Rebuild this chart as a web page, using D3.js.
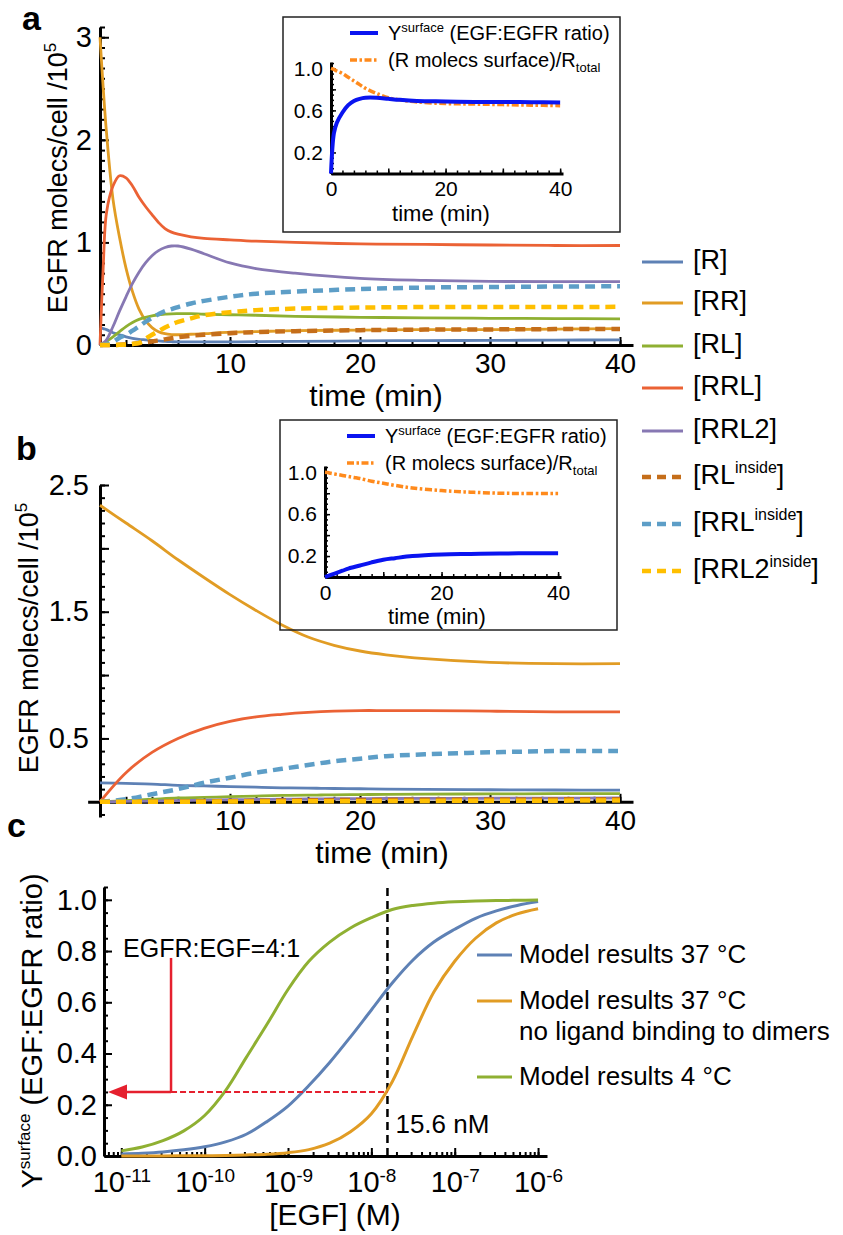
<!DOCTYPE html>
<html lang="en">
<head>
<meta charset="UTF-8">
<title>EGFR model simulations</title>
<script src="https://d3js.org/d3.v7.min.js"></script>
<style>
  body { margin: 0; background: #fff; }
  svg text { font-family: "Liberation Sans", Arial, sans-serif; fill: #000; }
</style>
</head>
<body>
<svg id="fig" width="843" height="1235"></svg>
<script>
// ---------------- data ----------------
// species (legend shared by panels a and b)
const speciesBase = ["[R", "[RR", "[RL", "[RRL", "[RRL2", "[RL", "[RRL", "[RRL2"];
const speciesSup = ["", "", "", "", "", "inside", "inside", "inside"];
const speciesColors = ["#5E81B5", "#E19C24", "#8FB032", "#EB6235", "#8778B3", "#C56E1A", "#5D9EC7", "#FFBF00"];
const speciesDashed = [false, false, false, false, false, true, true, true];

// panel a: EGFR molecs/cell /1e5 vs time (min)
const timeA = [0, 0.25, 0.5, 1, 1.5, 2, 2.5, 3, 3.5, 4, 4.5, 5, 5.5, 6, 7, 8, 10, 12, 15, 20, 25, 30, 35, 40];
const a_R      = [0.17, 0.16, 0.15, 0.12, 0.1, 0.08, 0.065, 0.055, 0.05, 0.045, 0.04, 0.035, 0.032, 0.03, 0.03, 0.03, 0.03, 0.032, 0.035, 0.04, 0.043, 0.045, 0.048, 0.05];
const a_RR     = [3.0, 2.5, 2.07, 1.42, 1.05, 0.75, 0.52, 0.35, 0.24, 0.17, 0.13, 0.11, 0.102, 0.1, 0.105, 0.11, 0.125, 0.13, 0.14, 0.145, 0.15, 0.15, 0.155, 0.16];
const a_RL     = [0, 0.015, 0.035, 0.08, 0.13, 0.18, 0.22, 0.25, 0.27, 0.285, 0.295, 0.3, 0.304, 0.305, 0.305, 0.3, 0.295, 0.29, 0.28, 0.27, 0.265, 0.26, 0.258, 0.255];
const a_RRL    = [0, 0.77, 1.29, 1.55, 1.65, 1.63, 1.55, 1.44, 1.35, 1.27, 1.195, 1.135, 1.1, 1.08, 1.055, 1.04, 1.025, 1.012, 1.0, 0.985, 0.98, 0.975, 0.97, 0.97];
const a_RRL2   = [0, 0.02, 0.05, 0.18, 0.33, 0.47, 0.6, 0.71, 0.8, 0.87, 0.92, 0.95, 0.965, 0.965, 0.935, 0.89, 0.8, 0.745, 0.7, 0.65, 0.63, 0.62, 0.618, 0.617];
const a_RLin   = [0, 0, 0, 0, 0.003, 0.006, 0.01, 0.018, 0.026, 0.035, 0.045, 0.055, 0.065, 0.075, 0.09, 0.1, 0.115, 0.125, 0.135, 0.145, 0.15, 0.152, 0.155, 0.157];
const a_RRLin  = [0, 0.002, 0.008, 0.03, 0.07, 0.1, 0.14, 0.18, 0.225, 0.265, 0.3, 0.33, 0.35, 0.37, 0.405, 0.43, 0.47, 0.5, 0.52, 0.545, 0.56, 0.565, 0.57, 0.572];
const a_RRL2in = [0, 0, 0, 0, 0.002, 0.005, 0.01, 0.02, 0.06, 0.1, 0.135, 0.17, 0.2, 0.225, 0.26, 0.29, 0.32, 0.34, 0.355, 0.365, 0.37, 0.37, 0.37, 0.372];

// panel b
const timeB = [0, 2, 4, 6, 8, 10, 12, 14, 16, 18, 20, 22, 25, 30, 35, 40];
const b_R      = [0.15, 0.145, 0.14, 0.13, 0.125, 0.12, 0.115, 0.11, 0.108, 0.105, 0.103, 0.1, 0.098, 0.095, 0.093, 0.092];
const b_RR     = [2.34, 2.2, 2.06, 1.91, 1.77, 1.635, 1.51, 1.395, 1.3, 1.235, 1.19, 1.16, 1.13, 1.1, 1.09, 1.09];
const b_RL     = [0, 0.01, 0.02, 0.03, 0.035, 0.04, 0.045, 0.05, 0.052, 0.055, 0.057, 0.058, 0.06, 0.062, 0.064, 0.065];
const b_RRL    = [0, 0.23, 0.39, 0.5, 0.58, 0.635, 0.67, 0.69, 0.705, 0.715, 0.72, 0.72, 0.72, 0.715, 0.71, 0.71];
const b_RRL2   = [0, 0.003, 0.006, 0.01, 0.013, 0.016, 0.018, 0.02, 0.022, 0.024, 0.025, 0.026, 0.027, 0.028, 0.029, 0.03];
const b_RLin   = [0, 0, 0.001, 0.002, 0.004, 0.006, 0.008, 0.01, 0.012, 0.013, 0.014, 0.015, 0.016, 0.018, 0.019, 0.02];
const b_RRLin  = [0, 0.02, 0.06, 0.1, 0.15, 0.19, 0.23, 0.26, 0.29, 0.32, 0.34, 0.36, 0.375, 0.39, 0.4, 0.4];
const b_RRL2in = [0, 0, 0, 0.001, 0.001, 0.002, 0.002, 0.003, 0.004, 0.004, 0.005, 0.006, 0.007, 0.008, 0.009, 0.01];

// insets: Y surface and R surface / R total
const timeInset = [0, 0.5, 1, 2, 3, 4, 5, 6, 8, 10, 12, 15, 20, 25, 30, 35, 40];
const insA_Y    = [0, 0.38, 0.48, 0.58, 0.65, 0.69, 0.71, 0.72, 0.72, 0.71, 0.7, 0.69, 0.685, 0.68, 0.68, 0.678, 0.675];
const insA_Rs   = [1.0, 0.99, 0.975, 0.95, 0.915, 0.88, 0.845, 0.81, 0.76, 0.72, 0.7, 0.68, 0.665, 0.66, 0.655, 0.65, 0.645];
const insB_Y    = [0, 0.01, 0.02, 0.04, 0.06, 0.08, 0.095, 0.11, 0.14, 0.165, 0.18, 0.2, 0.215, 0.22, 0.225, 0.226, 0.226];
const insB_Rs   = [1.0, 0.997, 0.99, 0.98, 0.97, 0.96, 0.95, 0.94, 0.915, 0.895, 0.875, 0.85, 0.825, 0.81, 0.8, 0.798, 0.797];

// panel c: Y surface vs [EGF] (M), quarter-decade steps 1e-11 .. 1e-6
const egfConc  = [1e-11, 1.78e-11, 3.16e-11, 5.62e-11, 1e-10, 1.78e-10, 3.16e-10, 5.62e-10, 1e-9, 1.78e-9, 3.16e-9,
                  5.62e-9, 1e-8, 1.78e-8, 3.16e-8, 5.62e-8, 1e-7, 1.78e-7, 3.16e-7, 5.62e-7, 1e-6];
const c_37     = [0.008, 0.011, 0.016, 0.024, 0.036, 0.055, 0.085, 0.135, 0.195, 0.275, 0.365, 0.465, 0.57, 0.675, 0.765, 0.835, 0.885, 0.928, 0.957, 0.978, 0.993];
const c_37noDim= [0, 0, 0, 0.001, 0.001, 0.002, 0.004, 0.007, 0.013, 0.025, 0.05, 0.095, 0.165, 0.29, 0.47, 0.64, 0.76, 0.85, 0.91, 0.945, 0.965];
const c_4      = [0.02, 0.035, 0.06, 0.098, 0.158, 0.255, 0.385, 0.515, 0.65, 0.76, 0.835, 0.89, 0.93, 0.962, 0.978, 0.987, 0.992, 0.995, 0.997, 0.998, 0.999];
const cLabels  = ["Model results 37 \u00B0C", "Model results 37 \u00B0C", "Model results 4 \u00B0C"];
const cColors  = ["#5E81B5", "#E19C24", "#8FB032"];
const egfMark = 15.6e-9;     // dashed line
const ratioMark = 0.25;      // EGFR:EGF = 4:1
const arrowStemConc = 3.95e-11;
const arrowStemTop = 0.773;

// ---------------- drawing ----------------
const svg = d3.select("#fig");
const FONT = "'Liberation Sans', Arial, sans-serif";
const smooth = d3.curveCatmullRom.alpha(0.5);

function styleAxis(g, lineW, tickW, font) {
  g.select(".domain").attr("stroke-width", lineW).attr("stroke", "#000");
  g.selectAll(".tick line").attr("stroke-width", tickW).attr("stroke", "#000");
  g.selectAll("text").style("font-size", font + "px").style("font-family", FONT);
}

// bottom axis: minor ticks + line, then major ticks with labels (ticks point inward)
function xAxis(scale, yPos, majors, minors, o) {
  const gm = svg.append("g").attr("transform", `translate(0,${yPos})`)
    .call(d3.axisBottom(scale).tickValues(minors).tickSize(-o.minorLen).tickSizeOuter(0).tickFormat(""));
  styleAxis(gm, o.lineW, o.tickW, o.font);
  const gM = svg.append("g").attr("transform", `translate(0,${yPos})`)
    .call(d3.axisBottom(scale).tickValues(majors).tickSize(-o.majorLen).tickPadding(o.pad).tickFormat(o.fmt));
  gM.select(".domain").remove();
  styleAxis(gM, o.lineW, o.tickW, o.font);
  return gM;
}
function yAxis(scale, xPos, majors, minors, o) {
  const gm = svg.append("g").attr("transform", `translate(${xPos},0)`)
    .call(d3.axisLeft(scale).tickValues(minors).tickSize(-o.minorLen).tickSizeOuter(0).tickFormat(""));
  styleAxis(gm, o.lineW, o.tickW, o.font);
  const gM = svg.append("g").attr("transform", `translate(${xPos},0)`)
    .call(d3.axisLeft(scale).tickValues(majors).tickSize(-o.majorLen).tickPadding(o.pad).tickFormat(o.fmt));
  gM.select(".domain").remove();
  styleAxis(gM, o.lineW, o.tickW, o.font);
  return gM;
}

function drawCurves(x, y, xs, seriesList, colors, dashed, widths) {
  const g = svg.append("g");
  seriesList.forEach((vals, i) => {
    const line = d3.line().x((d, j) => x(xs[j])).y(d => y(d)).curve(smooth);
    g.append("path").attr("d", line(vals))
      .attr("fill", "none")
      .attr("stroke", colors[i])
      .attr("stroke-width", dashed[i] ? widths[1] : widths[0])
      .attr("stroke-dasharray", dashed[i] ? "10,6" : null);
  });
}

function panelLabel(txt, x, y) {
  svg.append("text").attr("x", x).attr("y", y).style("font-size", "34px").style("font-weight", "bold").text(txt);
}

function yTitleEGFR(x, yc) {
  const t = svg.append("text").attr("transform", `translate(${x},${yc}) rotate(-90)`)
    .attr("text-anchor", "middle").style("font-size", "27px");
  t.append("tspan").text("EGFR molecs/cell /10");
  t.append("tspan").attr("dy", -11).style("font-size", "17px").text("5");
}

function inset(box, xr, yr, tY, tR) {
  svg.append("rect").attr("x", box[0]).attr("y", box[1]).attr("width", box[2] - box[0]).attr("height", box[3] - box[1])
    .attr("fill", "none").attr("stroke", "#222").attr("stroke-width", 1.5);
  const x = d3.scaleLinear().domain([0, 40.5]).range(xr);
  const y = d3.scaleLinear().domain([0, 1.06]).range(yr);
  xAxis(x, yr[0], [0, 10, 20, 30, 40], d3.range(0, 41, 2),
    { minorLen: 3, majorLen: 5, lineW: 3, tickW: 1.5, pad: 8, font: 21, fmt: d => (d % 20 === 0 ? d : "") });
  yAxis(y, xr[0], [0, 0.2, 0.4, 0.6, 0.8, 1.0], d3.range(0, 1.06, 0.05),
    { minorLen: 3, majorLen: 5, lineW: 3, tickW: 1.5, pad: 8, font: 21,
      fmt: d => ([0.2, 0.6, 1.0].some(v => Math.abs(v - d) < 1e-6) ? d.toFixed(1) : "") });
  const lineY = d3.line().x((d, j) => x(timeInset[j])).y(d => y(d)).curve(smooth);
  svg.append("path").attr("d", lineY(tR)).attr("fill", "none").attr("stroke", "#FF8A1C")
    .attr("stroke-width", 3.5).attr("stroke-dasharray", "7,2.5,2.5,2.5");
  svg.append("path").attr("d", lineY(tY)).attr("fill", "none").attr("stroke", "#0A14F0").attr("stroke-width", 4);
  svg.append("text").attr("x", (xr[0] + xr[1]) / 2 - 6).attr("y", yr[0] + 47).attr("text-anchor", "middle")
    .style("font-size", "22px").text("time (min)");
  // legend
  const lx = box[0] + 67, ly = box[1] + 16;
  svg.append("line").attr("x1", lx).attr("x2", lx + 28).attr("y1", ly).attr("y2", ly)
    .attr("stroke", "#0A14F0").attr("stroke-width", 4);
  const t1 = svg.append("text").attr("x", lx + 38).attr("y", ly + 7).style("font-size", "20px");
  t1.append("tspan").text("Y");
  t1.append("tspan").attr("dy", -8).style("font-size", "13px").text("surface");
  t1.append("tspan").attr("dy", 8).text(" (EGF:EGFR ratio)");
  svg.append("line").attr("x1", lx).attr("x2", lx + 28).attr("y1", ly + 27).attr("y2", ly + 27)
    .attr("stroke", "#FF8A1C").attr("stroke-width", 3.5).attr("stroke-dasharray", "7,2.5,2.5,2.5");
  const t2 = svg.append("text").attr("x", lx + 38).attr("y", ly + 34).style("font-size", "20px");
  t2.append("tspan").text("(R molecs surface)/R");
  t2.append("tspan").attr("dy", 5).style("font-size", "13px").text("total");
}

const timeAxisOpts = { minorLen: 5, majorLen: 8, lineW: 3, tickW: 2, pad: 8, font: 28, fmt: d => (d % 10 === 0 && d > 0 ? d : "") };

// ---- panel a ----
panelLabel("a", 22, 30);
const xA = d3.scaleLinear().domain([0, 41]).range([100, 633]);
const yA = d3.scaleLinear().domain([0, 3.1]).range([345, 27]);
xAxis(xA, 345, d3.range(10, 41, 10), d3.range(2, 41, 2), timeAxisOpts);
yAxis(yA, 100, [0, 1, 2, 3], d3.range(0.1, 3.11, 0.1),
  { minorLen: 5, majorLen: 9, lineW: 3, tickW: 2, pad: 8, font: 29, fmt: d3.format("d") });
drawCurves(xA, yA, timeA, [a_R, a_RR, a_RL, a_RRL, a_RRL2, a_RLin, a_RRLin, a_RRL2in],
  speciesColors, speciesDashed, [2.8, 4.5]);
svg.append("text").attr("x", 376).attr("y", 406).attr("text-anchor", "middle").style("font-size", "30px").text("time (min)");
yTitleEGFR(67, 178);
inset([283, 17, 620, 232], [331, 563], [173.5, 62], insA_Y, insA_Rs);

// ---- panel b ----
panelLabel("b", 16, 460);
const xB = d3.scaleLinear().domain([-0.95, 41]).range([87.65, 633]);
const yB = d3.scaleLinear().domain([-0.12, 2.5]).range([817, 485]);
xAxis(xB, yB(0), d3.range(10, 41, 10), d3.range(0, 41, 2), timeAxisOpts);
yAxis(yB, xB(0), d3.range(0, 2.51, 0.5), d3.range(-0.1, 2.51, 0.1),
  { minorLen: 5, majorLen: 9, lineW: 3, tickW: 2, pad: 11, font: 29,
    fmt: d => ([0.5, 1.5, 2.5].some(v => Math.abs(v - d) < 1e-6) ? d.toFixed(1) : "") });
drawCurves(xB, yB, timeB, [b_R, b_RR, b_RL, b_RRL, b_RRL2, b_RLin, b_RRLin, b_RRL2in],
  speciesColors, speciesDashed, [2.8, 4.5]);
svg.append("text").attr("x", 382).attr("y", 863).attr("text-anchor", "middle").style("font-size", "30px").text("time (min)");
yTitleEGFR(38, 638);
inset([280, 420, 617, 630], [325, 561], [577, 466], insB_Y, insB_Rs);

// ---- shared legend ----
const legendRowY = [262, 303, 346, 388, 431, 477, 524, 571];
speciesBase.forEach((name, i) => {
  const yy = legendRowY[i];
  svg.append("line").attr("x1", 642).attr("x2", 683).attr("y1", yy).attr("y2", yy)
    .attr("stroke", speciesColors[i]).attr("stroke-width", speciesDashed[i] ? 4.5 : 3)
    .attr("stroke-dasharray", speciesDashed[i] ? "9,6" : null);
  const t = svg.append("text").attr("x", 693).attr("y", yy + 7).style("font-size", "27px");
  t.append("tspan").text(name);
  if (speciesSup[i]) {
    t.append("tspan").attr("dy", -11).style("font-size", "16px").text(speciesSup[i]);
    t.append("tspan").attr("dy", 11).text("]");
  } else {
    t.append("tspan").text("]");
  }
});

// ---- panel c ----
panelLabel("c", 7, 837);
const xC = d3.scaleLog().domain([6.2e-12, 1.28e-6]).range([104, 547]);
const yC = d3.scaleLinear().domain([0, 1.05]).range([1156, 887]);
const decades = [1e-11, 1e-10, 1e-9, 1e-8, 1e-7, 1e-6];
const logMinors = [];
[-12, -11, -10, -9, -8, -7, -6].forEach(e => {
  for (let k = 1; k <= 9; k++) {
    const v = k * Math.pow(10, e);
    if (v >= 6.2e-12 && v <= 1.28e-6) logMinors.push(v);
  }
});
const gxc = xAxis(xC, 1156, decades, logMinors,
  { minorLen: 4, majorLen: 8, lineW: 3, tickW: 2, pad: 15, font: 29, fmt: d => d });
gxc.selectAll(".tick text").each(function (d) {
  const t = d3.select(this);
  t.text("");
  t.append("tspan").text("10");
  t.append("tspan").attr("dy", "-0.5em").style("font-size", "19px").text(Math.round(Math.log10(d)));
});
yAxis(yC, 104, d3.range(0, 1.01, 0.2), d3.range(0.05, 1.051, 0.05),
  { minorLen: 4, majorLen: 8, lineW: 3, tickW: 2, pad: 7, font: 29, fmt: d3.format(".1f") });

// dashed 15.6 nM line
svg.append("line").attr("x1", xC(egfMark)).attr("x2", xC(egfMark)).attr("y1", yC(0)).attr("y2", yC(1.05))
  .attr("stroke", "#000").attr("stroke-width", 2.5).attr("stroke-dasharray", "8,5");
svg.append("text").attr("x", xC(egfMark) + 8).attr("y", 1133).style("font-size", "26px").text("15.6 nM");

drawCurves(xC, yC, egfConc, [c_37, c_37noDim, c_4], cColors, [false, false, false], [3, 3]);

// red annotation: EGFR:EGF = 4:1
const red = "#E5202E";
const ax0 = xC.range()[0] + 4, axStem = xC(arrowStemConc), ay = yC(ratioMark);
svg.append("line").attr("x1", axStem).attr("x2", xC(egfMark)).attr("y1", ay).attr("y2", ay)
  .attr("stroke", red).attr("stroke-width", 2).attr("stroke-dasharray", "6,3");
svg.append("line").attr("x1", ax0 + 16).attr("x2", axStem).attr("y1", ay).attr("y2", ay)
  .attr("stroke", red).attr("stroke-width", 2.5);
svg.append("line").attr("x1", axStem).attr("x2", axStem).attr("y1", ay).attr("y2", yC(arrowStemTop))
  .attr("stroke", red).attr("stroke-width", 2.5);
svg.append("path").attr("d", `M${ax0},${ay} L${ax0 + 19},${ay - 7.5} L${ax0 + 19},${ay + 7.5} Z`).attr("fill", red);
svg.append("text").attr("x", axStem - 48).attr("y", yC(arrowStemTop) - 1).style("font-size", "25px").text("EGFR:EGF=4:1");

// axis titles
svg.append("text").attr("x", 335).attr("y", 1225).attr("text-anchor", "middle").style("font-size", "30px").text("[EGF] (M)");
const tc = svg.append("text").attr("transform", "translate(42,1031) rotate(-90)").attr("text-anchor", "middle").style("font-size", "29px");
tc.append("tspan").text("Y");
tc.append("tspan").attr("dy", -12).style("font-size", "17px").text("surface");
tc.append("tspan").attr("dy", 12).text(" (EGF:EGFR ratio)");

// panel c legend
const cRowY = [955, 1001, 1077];
cLabels.forEach((lab, i) => {
  svg.append("line").attr("x1", 477).attr("x2", 512).attr("y1", cRowY[i]).attr("y2", cRowY[i])
    .attr("stroke", cColors[i]).attr("stroke-width", 3);
  svg.append("text").attr("x", 519).attr("y", cRowY[i] + 8).style("font-size", "26px").text(lab);
});
svg.append("text").attr("x", 519).attr("y", 1040).style("font-size", "26px").text("no ligand binding to dimers");
</script>
</body>
</html>
